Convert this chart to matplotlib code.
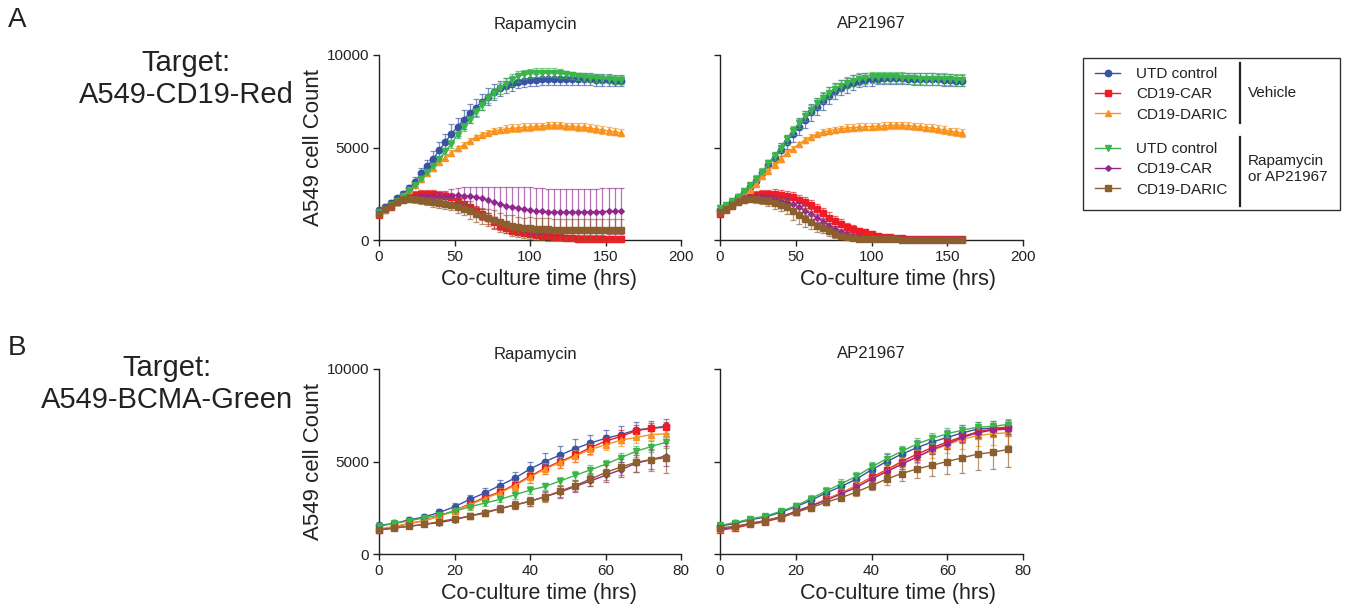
import matplotlib
matplotlib.use('Agg')
import matplotlib.pyplot as plt
from matplotlib.patches import Rectangle
from matplotlib.lines import Line2D

plt.rcParams['font.family'] = ['Liberation Sans', 'DejaVu Sans']

# ---------------- data ----------------
time_a = list(range(0, 161, 4))   # A549-CD19-Red, hrs
time_b = list(range(0, 77, 4))    # A549-BCMA-Green, hrs

series_labels = ['UTD control', 'CD19-CAR', 'CD19-DARIC', 'UTD control', 'CD19-CAR', 'CD19-DARIC']
group_labels = ['Vehicle', 'Rapamycin\nor AP21967']
panel_titles = ['Rapamycin', 'AP21967']

# Panel A - Rapamycin
a_rap_utd_veh = [1600, 1800, 2000, 2250, 2500, 2800, 3150, 3600, 4000, 4400, 4850, 5300, 5750, 6100, 6500, 6850, 7150, 7450, 7750, 8000, 8200, 8350, 8450, 8550, 8600, 8650, 8650, 8700, 8700, 8700, 8700, 8700, 8700, 8700, 8700, 8700, 8650, 8650, 8650, 8600, 8600]
a_rap_car_veh = [1350, 1600, 1800, 2050, 2250, 2400, 2450, 2480, 2500, 2500, 2450, 2400, 2300, 2100, 1950, 1800, 1550, 1400, 1170, 950, 780, 640, 500, 450, 360, 300, 250, 230, 200, 180, 150, 120, 100, 80, 70, 60, 60, 50, 50, 40, 40]
a_rap_daric_veh = [1400, 1600, 1850, 2100, 2400, 2700, 2950, 3300, 3600, 3900, 4200, 4450, 4700, 4950, 5150, 5350, 5550, 5700, 5800, 5900, 5950, 6000, 6050, 6050, 6100, 6100, 6150, 6150, 6200, 6200, 6200, 6150, 6150, 6100, 6100, 6050, 6000, 5950, 5900, 5850, 5800]
a_rap_utd_drug = [1500, 1700, 1900, 2100, 2350, 2650, 2950, 3300, 3650, 4000, 4400, 4800, 5200, 5700, 6100, 6500, 6900, 7300, 7650, 7950, 8200, 8450, 8650, 8850, 8950, 9000, 9050, 9050, 9050, 9050, 9000, 8950, 8900, 8850, 8800, 8750, 8750, 8700, 8700, 8650, 8650]
a_rap_car_drug = [1400, 1650, 1850, 2050, 2200, 2250, 2300, 2300, 2300, 2350, 2350, 2350, 2400, 2420, 2400, 2380, 2330, 2270, 2160, 2050, 1950, 1850, 1780, 1720, 1650, 1600, 1570, 1560, 1520, 1500, 1500, 1500, 1500, 1500, 1520, 1520, 1530, 1540, 1550, 1550, 1560]
a_rap_daric_drug = [1400, 1650, 1850, 2050, 2150, 2200, 2200, 2150, 2100, 2050, 2000, 1950, 1900, 1800, 1700, 1550, 1400, 1300, 1200, 1100, 950, 860, 780, 700, 650, 630, 600, 580, 570, 560, 560, 560, 560, 560, 560, 560, 560, 560, 560, 560, 560]

a_rap_utd_veh_sd = [150, 150, 150, 150, 150, 200, 250, 300, 350, 400, 450, 450, 500, 500, 500, 500, 450, 450, 450, 450, 400, 400, 400, 350, 350, 350, 300, 300, 300, 300, 300, 300, 300, 300, 300, 300, 300, 300, 300, 300, 300]
a_rap_car_veh_sd = [100, 100, 150, 150, 150, 200, 200, 200, 200, 200, 200, 200, 250, 250, 300, 300, 300, 300, 300, 300, 250, 250, 200, 200, 150, 150, 100, 100, 100, 100, 80, 80, 80, 80, 80, 60, 60, 60, 60, 60, 60]
a_rap_daric_veh_sd = [100, 100, 100, 100, 150, 150, 150, 150, 150, 150, 150, 150, 150, 150, 150, 150, 150, 150, 150, 150, 150, 200, 200, 200, 200, 200, 200, 200, 200, 200, 200, 200, 200, 200, 200, 200, 200, 200, 200, 200, 200]
a_rap_utd_drug_sd = [100, 100, 100, 100, 100, 100, 150, 150, 150, 150, 150, 150, 200, 200, 200, 200, 250, 250, 250, 250, 300, 300, 300, 300, 250, 250, 250, 250, 250, 250, 250, 200, 200, 200, 200, 200, 200, 200, 200, 200, 200]
a_rap_car_drug_sd = [100, 100, 150, 150, 150, 150, 150, 200, 200, 200, 250, 300, 350, 400, 450, 500, 550, 600, 700, 800, 900, 1000, 1100, 1150, 1200, 1250, 1250, 1250, 1250, 1250, 1250, 1250, 1250, 1250, 1250, 1250, 1250, 1250, 1250, 1250, 1250]
a_rap_daric_drug_sd = [150, 150, 150, 150, 150, 150, 200, 200, 200, 250, 250, 300, 300, 350, 350, 400, 400, 450, 450, 500, 500, 500, 550, 550, 550, 600, 600, 600, 600, 600, 600, 600, 600, 600, 600, 600, 600, 600, 600, 600, 600]

# Panel A - AP21967
a_ap_utd_veh = [1600, 1820, 2040, 2300, 2550, 2850, 3180, 3600, 4050, 4450, 4880, 5300, 5720, 6120, 6500, 6900, 7200, 7500, 7800, 8050, 8230, 8370, 8500, 8600, 8650, 8700, 8720, 8750, 8750, 8750, 8750, 8720, 8700, 8700, 8700, 8700, 8680, 8650, 8650, 8620, 8600]
a_ap_car_veh = [1400, 1600, 1850, 2100, 2300, 2400, 2450, 2480, 2500, 2500, 2450, 2400, 2300, 2150, 2030, 1880, 1650, 1450, 1200, 1030, 860, 700, 590, 500, 430, 320, 240, 180, 140, 110, 90, 80, 70, 60, 50, 50, 40, 40, 40, 40, 40]
a_ap_daric_veh = [1500, 1700, 1900, 2150, 2400, 2700, 3040, 3450, 3750, 4080, 4390, 4700, 4940, 5170, 5420, 5570, 5710, 5840, 5900, 5970, 6020, 6050, 6080, 6100, 6120, 6130, 6150, 6170, 6200, 6200, 6200, 6180, 6150, 6120, 6080, 6050, 6000, 5950, 5880, 5830, 5790]
a_ap_utd_drug = [1750, 1900, 2100, 2350, 2650, 2950, 3300, 3700, 4150, 4550, 5000, 5450, 5900, 6300, 6700, 7050, 7400, 7700, 7950, 8150, 8350, 8500, 8600, 8700, 8750, 8800, 8800, 8800, 8800, 8800, 8780, 8750, 8750, 8720, 8700, 8700, 8700, 8700, 8680, 8650, 8650]
a_ap_car_drug = [1500, 1700, 1900, 2100, 2250, 2300, 2300, 2300, 2250, 2200, 2100, 2050, 1950, 1780, 1580, 1400, 1200, 1000, 770, 580, 420, 320, 240, 170, 110, 80, 60, 50, 40, 40, 30, 30, 30, 30, 30, 30, 30, 30, 30, 30, 30]
a_ap_daric_drug = [1500, 1700, 1900, 2050, 2150, 2200, 2200, 2150, 2100, 2000, 1900, 1780, 1550, 1330, 1150, 1000, 780, 660, 480, 320, 230, 150, 110, 80, 60, 50, 40, 30, 30, 30, 20, 20, 20, 20, 20, 20, 20, 20, 20, 20, 20]

a_ap_utd_veh_sd = [150, 150, 150, 150, 150, 200, 200, 250, 250, 300, 350, 400, 400, 450, 450, 450, 450, 450, 450, 450, 400, 400, 400, 350, 350, 350, 300, 300, 300, 300, 300, 300, 300, 300, 300, 300, 300, 300, 300, 300, 300]
a_ap_car_veh_sd = [100, 100, 150, 150, 150, 150, 200, 200, 200, 250, 250, 250, 300, 300, 300, 300, 300, 300, 300, 250, 250, 200, 200, 150, 150, 100, 100, 100, 80, 80, 80, 80, 80, 80, 80, 60, 60, 60, 60, 60, 60]
a_ap_daric_veh_sd = [100, 100, 100, 100, 150, 150, 150, 150, 150, 150, 150, 150, 150, 150, 150, 150, 150, 150, 150, 150, 150, 200, 200, 200, 200, 200, 200, 200, 200, 200, 200, 200, 200, 200, 200, 200, 200, 200, 200, 200, 200]
a_ap_utd_drug_sd = [150, 150, 150, 150, 150, 150, 200, 200, 200, 200, 250, 250, 250, 250, 250, 250, 300, 300, 300, 300, 300, 300, 300, 300, 300, 300, 300, 300, 300, 300, 300, 300, 300, 300, 300, 300, 300, 300, 300, 300, 300]
a_ap_car_drug_sd = [100, 100, 100, 100, 100, 150, 150, 150, 150, 200, 200, 200, 250, 250, 250, 250, 200, 200, 150, 150, 100, 100, 80, 80, 60, 60, 50, 50, 50, 50, 50, 50, 50, 50, 50, 50, 50, 50, 50, 50, 50]
a_ap_daric_drug_sd = [100, 100, 150, 150, 150, 150, 200, 200, 250, 300, 350, 400, 450, 450, 450, 400, 350, 300, 250, 200, 150, 100, 80, 60, 50, 50, 40, 40, 40, 40, 40, 40, 40, 40, 40, 40, 40, 40, 40, 40, 40]

# Panel B - Rapamycin
b_rap_utd_veh = [1550, 1650, 1850, 2000, 2250, 2550, 2950, 3300, 3700, 4100, 4600, 5000, 5350, 5700, 6000, 6250, 6450, 6700, 6800, 6900]
b_rap_car_veh = [1300, 1450, 1650, 1800, 2050, 2350, 2700, 3050, 3350, 3750, 4200, 4650, 5000, 5350, 5750, 6100, 6350, 6650, 6800, 6850]
b_rap_daric_veh = [1350, 1500, 1650, 1800, 2050, 2350, 2650, 3000, 3300, 3700, 4150, 4600, 4950, 5300, 5650, 5900, 6150, 6300, 6450, 6500]
b_rap_utd_drug = [1500, 1650, 1800, 1950, 2100, 2300, 2550, 2750, 2950, 3200, 3450, 3650, 3950, 4250, 4550, 4850, 5200, 5550, 5800, 6050]
b_rap_car_drug = [1300, 1400, 1500, 1600, 1700, 1850, 2050, 2250, 2450, 2650, 2850, 3100, 3350, 3650, 3950, 4250, 4550, 4900, 5100, 5300]
b_rap_daric_drug = [1300, 1400, 1500, 1600, 1750, 1900, 2050, 2200, 2450, 2650, 2850, 3100, 3400, 3700, 4050, 4400, 4700, 4950, 5100, 5200]

b_rap_utd_veh_sd = [100, 100, 150, 150, 200, 200, 250, 250, 300, 350, 400, 450, 500, 500, 450, 450, 450, 450, 400, 400]
b_rap_car_veh_sd = [100, 100, 100, 100, 150, 150, 200, 200, 250, 300, 350, 350, 350, 350, 350, 350, 350, 300, 300, 300]
b_rap_daric_veh_sd = [100, 100, 100, 100, 150, 150, 200, 200, 250, 250, 300, 300, 300, 300, 300, 300, 300, 300, 300, 300]
b_rap_utd_drug_sd = [100, 100, 100, 100, 100, 150, 150, 150, 150, 200, 200, 200, 200, 250, 250, 250, 250, 300, 300, 300]
b_rap_car_drug_sd = [100, 100, 100, 100, 100, 100, 150, 150, 200, 200, 250, 250, 300, 300, 300, 350, 400, 450, 500, 550]
b_rap_daric_drug_sd = [100, 100, 100, 100, 100, 100, 150, 150, 200, 200, 250, 300, 300, 300, 350, 400, 450, 500, 600, 800]

# Panel B - AP21967
b_ap_utd_veh = [1500, 1650, 1850, 2000, 2250, 2550, 2900, 3300, 3650, 4050, 4550, 5000, 5400, 5750, 6050, 6300, 6550, 6750, 6800, 6850]
b_ap_car_veh = [1300, 1400, 1600, 1750, 1950, 2250, 2600, 2950, 3300, 3700, 4150, 4550, 5000, 5400, 5750, 6050, 6350, 6600, 6750, 6800]
b_ap_daric_veh = [1350, 1450, 1650, 1800, 2000, 2300, 2600, 2950, 3300, 3700, 4100, 4500, 4900, 5250, 5600, 5900, 6200, 6400, 6500, 6550]
b_ap_utd_drug = [1550, 1700, 1900, 2050, 2300, 2600, 3000, 3400, 3800, 4200, 4700, 5150, 5550, 5950, 6250, 6500, 6700, 6850, 6900, 7000]
b_ap_car_drug = [1350, 1450, 1650, 1800, 2000, 2300, 2600, 2900, 3250, 3600, 4050, 4450, 4850, 5250, 5650, 5950, 6300, 6550, 6700, 6750]
b_ap_daric_drug = [1400, 1500, 1650, 1800, 2000, 2250, 2500, 2800, 3050, 3350, 3700, 4050, 4350, 4600, 4800, 5000, 5200, 5400, 5500, 5650]

b_ap_utd_veh_sd = [100, 100, 100, 150, 150, 200, 200, 250, 250, 300, 350, 400, 400, 400, 400, 400, 400, 400, 400, 400]
b_ap_car_veh_sd = [100, 100, 100, 100, 150, 150, 150, 200, 200, 250, 250, 300, 300, 300, 300, 300, 300, 300, 300, 300]
b_ap_daric_veh_sd = [100, 100, 100, 100, 100, 150, 150, 150, 200, 200, 250, 250, 300, 350, 400, 450, 500, 550, 600, 650]
b_ap_utd_drug_sd = [100, 100, 100, 100, 150, 150, 200, 200, 250, 250, 300, 300, 300, 300, 300, 300, 300, 300, 300, 300]
b_ap_car_drug_sd = [100, 100, 100, 100, 100, 150, 150, 150, 200, 200, 200, 200, 250, 250, 250, 250, 250, 250, 250, 250]
b_ap_daric_drug_sd = [100, 100, 100, 100, 100, 100, 150, 150, 150, 200, 250, 300, 400, 500, 600, 700, 800, 850, 900, 950]

# ---------------- styles ----------------
colors = ['#3953A4', '#EE1C25', '#F7931E', '#3AB54A', '#92278F', '#8E5F2E']
markers = ['o', 's', '^', 'v', 'D', 's']
msizes = [4.6, 4.8, 4.6, 4.6, 2.9, 4.4]
draw_order = [4, 5, 3, 2, 1, 0]

W, H = 1347, 608
fig = plt.figure(figsize=(W / 100, H / 100), dpi=100)

def fpos(x0, ybot, w, h):
    return [x0 / W, 1 - ybot / H, w / W, h / H]

axes_info = [
    (fpos(379, 240, 302, 185), time_a,
     [a_rap_utd_veh, a_rap_car_veh, a_rap_daric_veh, a_rap_utd_drug, a_rap_car_drug, a_rap_daric_drug],
     [a_rap_utd_veh_sd, a_rap_car_veh_sd, a_rap_daric_veh_sd, a_rap_utd_drug_sd, a_rap_car_drug_sd, a_rap_daric_drug_sd],
     200, [0, 50, 100, 150, 200], True, 0.53),
    (fpos(720, 240, 303, 185), time_a,
     [a_ap_utd_veh, a_ap_car_veh, a_ap_daric_veh, a_ap_utd_drug, a_ap_car_drug, a_ap_daric_drug],
     [a_ap_utd_veh_sd, a_ap_car_veh_sd, a_ap_daric_veh_sd, a_ap_utd_drug_sd, a_ap_car_drug_sd, a_ap_daric_drug_sd],
     200, [0, 50, 100, 150, 200], False, 0.587),
    (fpos(379, 554, 302, 185), time_b,
     [b_rap_utd_veh, b_rap_car_veh, b_rap_daric_veh, b_rap_utd_drug, b_rap_car_drug, b_rap_daric_drug],
     [b_rap_utd_veh_sd, b_rap_car_veh_sd, b_rap_daric_veh_sd, b_rap_utd_drug_sd, b_rap_car_drug_sd, b_rap_daric_drug_sd],
     80, [0, 20, 40, 60, 80], True, 0.53),
    (fpos(720, 554, 303, 185), time_b,
     [b_ap_utd_veh, b_ap_car_veh, b_ap_daric_veh, b_ap_utd_drug, b_ap_car_drug, b_ap_daric_drug],
     [b_ap_utd_veh_sd, b_ap_car_veh_sd, b_ap_daric_veh_sd, b_ap_utd_drug_sd, b_ap_car_drug_sd, b_ap_daric_drug_sd],
     80, [0, 20, 40, 60, 80], False, 0.587),
]

handles = {}
for pos, t, ys, sds, xmax, xticks, ylab, xlab_x in axes_info:
    ax = fig.add_axes(pos)
    for i in draw_order:
        cont = ax.errorbar(t, ys[i], yerr=sds[i], color=colors[i], marker=markers[i],
                           markersize=msizes[i], linewidth=1.0, elinewidth=0.9,
                           ecolor=colors[i], capsize=2.2, capthick=0.9, clip_on=False,
                           zorder=3 + i * 0.1)
        for c in cont[1] + cont[2]:
            c.set_alpha(0.65)
            c.set_clip_on(False)
        handles.setdefault(i, cont[0])
    ax.set_xlim(0, xmax)
    ax.set_ylim(0, 10000)
    ax.set_xticks(xticks)
    ax.set_yticks([0, 5000, 10000])
    for s in ['top', 'right']:
        ax.spines[s].set_visible(False)
    for s in ['left', 'bottom']:
        ax.spines[s].set_linewidth(1.0)
        ax.spines[s].set_color('#222222')
    ax.tick_params(direction='out', length=4, width=1.0, colors='#222222',
                   labelsize=11, pad=3)
    ax.set_xlabel('Co-culture time (hrs)', fontsize=15.5, labelpad=3.5, color='#222222')
    ax.xaxis.label.set_x(xlab_x)
    if ylab:
        ax.set_ylabel('A549 cell Count', fontsize=16, labelpad=2, color='#222222')
    else:
        ax.set_yticklabels([])

# titles
for x, y, txt in [(535, 24, panel_titles[0]), (871, 24, panel_titles[1]),
                  (535, 354, panel_titles[0]), (871, 354, panel_titles[1])]:
    fig.text(x / W, 1 - y / H, txt, ha='center', va='center', fontsize=12, color='#222222')

# panel letters and targets
fig.text(8 / W, 1 - 20 / H, 'A', ha='left', va='center', fontsize=20, color='#222222')
fig.text(8 / W, 1 - 348 / H, 'B', ha='left', va='center', fontsize=20, color='#222222')
fig.text(186 / W, 1 - 79 / H, 'Target:\nA549-CD19-Red', ha='center', va='center',
         multialignment='center', fontsize=21, linespacing=1.2, color='#222222')
fig.text(167 / W, 1 - 384 / H, 'Target:\nA549-BCMA-Green', ha='center', va='center',
         multialignment='center', fontsize=21, linespacing=1.2, color='#222222')

# legend
fig.add_artist(Rectangle((1083 / W, 1 - 210 / H), 257 / W, 152 / H, transform=fig.transFigure,
                         fill=False, edgecolor='#333333', linewidth=1.0))
leg_kw = dict(frameon=False, fontsize=11, handlelength=1.65, handletextpad=1.05,
              labelspacing=0.42, borderpad=0, borderaxespad=0, loc='upper left',
              bbox_transform=fig.transFigure)
leg1 = fig.legend([handles[0], handles[1], handles[2]], series_labels[:3],
                  bbox_to_anchor=(1095 / W, 1 - 67 / H), **leg_kw)
leg2 = fig.legend([handles[3], handles[4], handles[5]], series_labels[3:],
                  bbox_to_anchor=(1095 / W, 1 - 142 / H), **leg_kw)
for leg in (leg1, leg2):
    for tx in leg.get_texts():
        tx.set_color('#222222')
fig.add_artist(Line2D([1240 / W, 1240 / W], [1 - 63 / H, 1 - 123 / H], transform=fig.transFigure,
                      color='#222222', linewidth=1.6))
fig.add_artist(Line2D([1240 / W, 1240 / W], [1 - 137 / H, 1 - 206 / H], transform=fig.transFigure,
                      color='#222222', linewidth=1.6))
fig.text(1248 / W, 1 - 93 / H, group_labels[0], ha='left', va='center', fontsize=11, color='#222222')
fig.text(1248 / W, 1 - 169 / H, group_labels[1], ha='left', va='center', fontsize=11,
         linespacing=1.25, color='#222222')

fig.savefig('out.png', dpi=100)
